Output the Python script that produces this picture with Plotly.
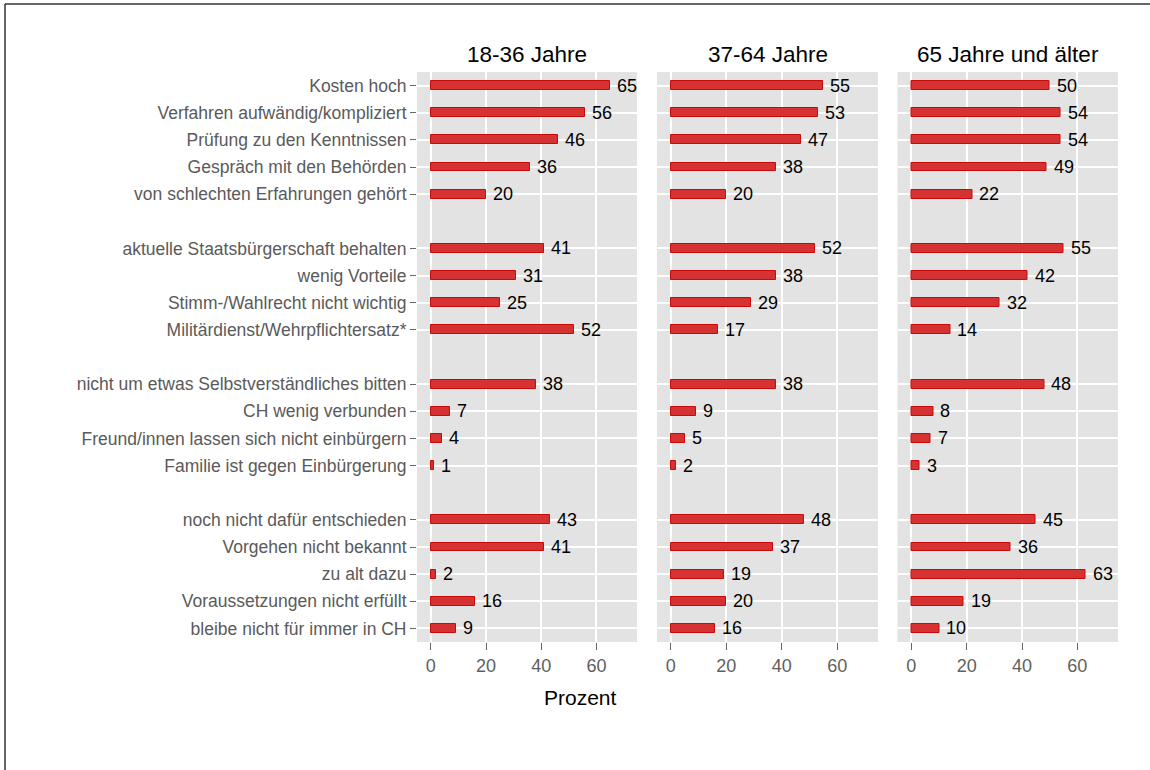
import plotly.graph_objects as go

# Reasons for not naturalising, by age group (percent)
groups = [
    ["Kosten hoch", "Verfahren aufwändig/kompliziert", "Prüfung zu den Kenntnissen",
     "Gespräch mit den Behörden", "von schlechten Erfahrungen gehört"],
    ["aktuelle Staatsbürgerschaft behalten", "wenig Vorteile",
     "Stimm-/Wahlrecht nicht wichtig", "Militärdienst/Wehrpflichtersatz*"],
    ["nicht um etwas Selbstverständliches bitten", "CH wenig verbunden",
     "Freund/innen lassen sich nicht einbürgern", "Familie ist gegen Einbürgerung"],
    ["noch nicht dafür entschieden", "Vorgehen nicht bekannt", "zu alt dazu",
     "Voraussetzungen nicht erfüllt", "bleibe nicht für immer in CH"],
]

age_groups = ["18-36 Jahre", "37-64 Jahre", "65 Jahre und älter"]

values_18_36 = [65, 56, 46, 36, 20, 41, 31, 25, 52, 38, 7, 4, 1, 43, 41, 2, 16, 9]
values_37_64 = [55, 53, 47, 38, 20, 52, 38, 29, 17, 38, 9, 5, 2, 48, 37, 19, 20, 16]
values_65_plus = [50, 54, 54, 49, 22, 55, 42, 32, 14, 48, 8, 7, 3, 45, 36, 63, 19, 10]

x_ticks = [0, 20, 40, 60]

# Row positions: one empty row between consecutive groups
categories, positions = [], []
row = 0
for g in groups:
    for c in g:
        categories.append(c)
        positions.append(row)
        row += 1
    row += 1

FONT = "Liberation Sans, Arial, sans-serif"
BAR_FILL = "#D63232"
BAR_EDGE = "#C80A0A"
PANEL_BG = "#E3E3E3"

W, H = 1150, 770
panel_px = [(417, 637), (657, 878), (897.5, 1118)]
y_top, y_bot = 72, 642
y_dom = [1 - y_bot / H, 1 - y_top / H]

fig = go.Figure()
annotations = []
series = [values_18_36, values_37_64, values_65_plus]

for i, (vals, title) in enumerate(zip(series, age_groups)):
    suffix = "" if i == 0 else str(i + 1)
    xa, ya = "x" + suffix, "y" + suffix
    fig.add_trace(go.Bar(
        x=vals, y=positions, orientation="h", width=0.33,
        marker=dict(color=BAR_FILL, line=dict(color=BAR_EDGE, width=1)),
        xaxis=xa, yaxis=ya, showlegend=False, hoverinfo="x+y",
    ))
    for v, p in zip(vals, positions):
        annotations.append(dict(
            x=v, y=p, xref=xa, yref=ya, text=str(v), showarrow=False,
            xanchor="left", yanchor="middle", xshift=5,
            font=dict(family=FONT, size=18, color="black"),
        ))
    x0, x1 = panel_px[i]
    dom = [x0 / W, x1 / W]
    annotations.append(dict(
        x=(dom[0] + dom[1]) / 2, y=1 - 55 / H, xref="paper", yref="paper",
        text=title, showarrow=False, xanchor="center", yanchor="middle",
        font=dict(family=FONT, size=22.5, color="black"),
    ))
    fig.layout["xaxis" + suffix] = dict(
        domain=dom, anchor=ya, range=[-5, 74.7],
        tickvals=x_ticks, ticks="outside", ticklen=7, tickcolor="#666666",
        tickwidth=1.3, tickfont=dict(family=FONT, size=18, color="#606060"),
        showgrid=True, gridcolor="white", gridwidth=1.6,
        zeroline=False, showline=False, fixedrange=True,
    )
    fig.layout["yaxis" + suffix] = dict(
        domain=y_dom, anchor=xa, range=[20.5, -0.5],
        tickvals=positions, ticktext=categories if i == 0 else None,
        showticklabels=(i == 0), ticks="outside" if i == 0 else "",
        ticklen=6, tickcolor="#666666", tickwidth=1.3,
        tickfont=dict(family=FONT, size=17.5, color="#5A5A5A"),
        showgrid=True, gridcolor="white", gridwidth=1.6,
        zeroline=False, showline=False, fixedrange=True,
    )

annotations.append(dict(
    x=580 / W, y=1 - 697 / H, xref="paper", yref="paper", text="Prozent",
    showarrow=False, xanchor="center", yanchor="middle",
    font=dict(family=FONT, size=21, color="black"),
))

# Outer frame (top and left edges)
shapes = [
    dict(type="line", xref="paper", yref="paper", x0=5 / W, x1=1.01,
         y0=1 - 4 / H, y1=1 - 4 / H, line=dict(color="#333333", width=1.5)),
    dict(type="line", xref="paper", yref="paper", x0=5 / W, x1=5 / W,
         y0=-0.01, y1=1 - 4 / H, line=dict(color="#333333", width=1.5)),
]

fig.update_layout(
    width=W, height=H, margin=dict(l=0, r=0, t=0, b=0),
    paper_bgcolor="white", plot_bgcolor=PANEL_BG,
    annotations=annotations, shapes=shapes, bargap=0,
    font=dict(family=FONT),
)

fig.write_html("out.html")
